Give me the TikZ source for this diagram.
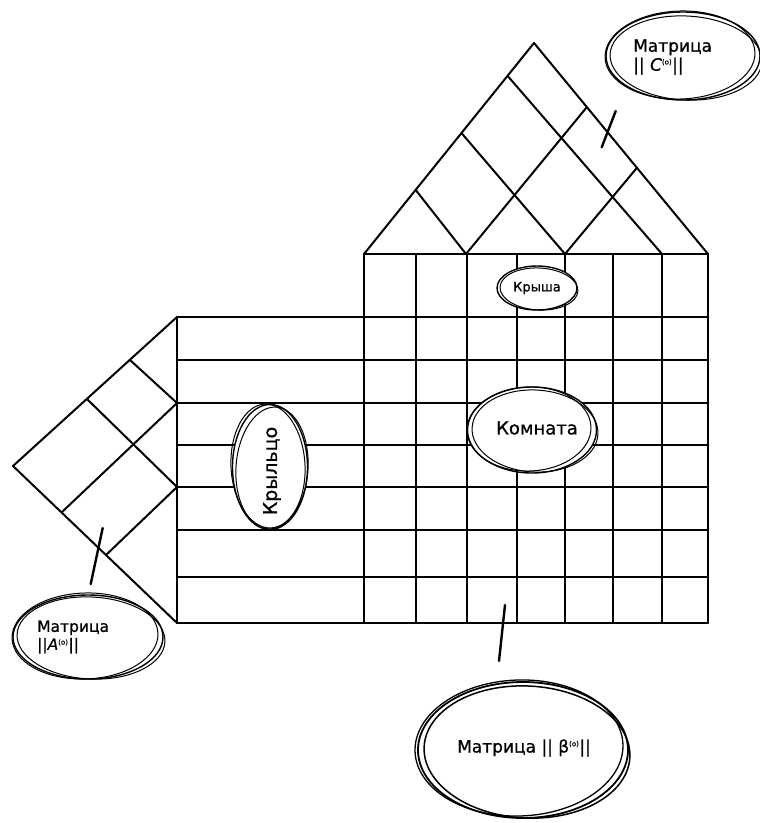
\documentclass[tikz,border=0pt]{standalone}
\usepackage{fontspec}
\setmainfont{DejaVu Sans}[FakeBold=0.8]
\usetikzlibrary{shapes.geometric}
\newcommand\supo{\textsuperscript{\fontsize{7}{8}\selectfont(o)}}
\begin{document}
\begin{tikzpicture}[x=1pt,y=-1pt,
  gridline/.style={line width=2pt, line cap=round, line join=round},
  bubble/.style={ellipse, draw, fill=white, line width=1.4pt, inner sep=0pt},
  sketch/.style={line width=1pt},
  leader/.style={line width=2.4pt, line cap=round},
  lbl/.style={inner sep=0pt, align=left}]
\useasboundingbox[fill=white] (0,0) rectangle (760,823);

% ---- house grid ----
\foreach \y in {317,360,403,445,487,530,577,623} \draw[gridline] (177,\y) -- (708,\y);
\draw[gridline] (364,254) -- (708,254);
\foreach \x in {364,416,467,517,565,613,662,708} \draw[gridline] (\x,254) -- (\x,623);
\draw[gridline] (177,317) -- (177,623);

% ---- porch roof (left triangle) ----
\draw[gridline] (177,317) -- (13,466) -- (177,623);
\draw[gridline] (177,403) -- (130,360);
\draw[gridline] (177,487) -- (87,399);
\draw[gridline] (177,403) -- (62,512);
\draw[gridline] (177,487) -- (106,555);

% ---- roof ----
\draw[gridline] (364,254) -- (534,43) -- (708,254);
\draw[gridline] (415.7,190) -- (466,254);
\draw[gridline] (466,254) -- (586.7,107.3);
\draw[gridline] (461.7,133.3) -- (565,254);
\draw[gridline] (565,254) -- (636.5,168.3);
\draw[gridline] (508.3,76.7) -- (662,254);

% ---- leader lines ----
\coordinate (c1) at (601.7,147.3); \coordinate (c2) at (615.7,111);
\coordinate (a1) at (102.7,528);   \coordinate (a2) at (90.7,584);
\coordinate (b1) at (505,605);     \coordinate (b2) at (499,661);
\draw[leader] (c1) -- (c2);
\draw[leader] (a1) -- (a2);
\draw[leader] (b1) -- (b2);

% ---- bubbles ----
\node[bubble, minimum width=154pt, minimum height=88pt] (bC) at (683,56) {};
\draw[sketch, shift={(686,58)}, rotate=-3] (0,0) ellipse [x radius=76, y radius=42];
\draw[sketch, shift={(680,55)}, rotate=2] (0,0) ellipse [x radius=75, y radius=44];
\node[lbl, anchor=west, font=\fontsize{17}{19}\selectfont] (tC) at (633,57) {Матрица\\|| \textit{C}\supo||};

\node[bubble, minimum width=150pt, minimum height=84pt] (bA) at (88,637) {};
\draw[sketch, shift={(91,638)}, rotate=-3] (0,0) ellipse [x radius=74, y radius=41];
\draw[sketch, shift={(85,636)}, rotate=2] (0,0) ellipse [x radius=73, y radius=43];
\node[lbl, anchor=west, font=\fontsize{15.5}{18}\selectfont] (tA) at (37,637) {Матрица\\||\textit{A}\supo||};

\node[bubble, line width=1.8pt, minimum width=210pt, minimum height=136pt] (bB) at (523,750) {};
\draw[line width=1.5pt, shift={(527,752)}, rotate=-3] (0,0) ellipse [x radius=103, y radius=66];
\draw[line width=1.3pt, shift={(519,748)}, rotate=2] (0,0) ellipse [x radius=104, y radius=68];
\node[lbl, anchor=west, font=\fontsize{17}{19}\selectfont] (tB) at (457,748) {Матрица || β\supo||};

\node[bubble, minimum width=80pt, minimum height=44pt] (bR) at (537,288) {};
\draw[sketch, shift={(539,289)}, rotate=-3] (0,0) ellipse [x radius=39, y radius=21];
\node[lbl, font=\fontsize{13}{15}\selectfont] (tR) at (537,288) {Крыша};

\node[bubble, minimum width=129pt, minimum height=86pt] (bK) at (532,430) {};
\draw[sketch, shift={(535,431)}, rotate=-3] (0,0) ellipse [x radius=63, y radius=41];
\draw[sketch, shift={(529,429)}, rotate=2] (0,0) ellipse [x radius=62, y radius=42];
\node[lbl, font=\fontsize{18}{20}\selectfont] (tK) at (537,428) {Комната};

\node[bubble, minimum width=75pt, minimum height=125pt] (bP) at (270,467) {};
\draw[sketch, shift={(272,468)}, rotate=-4] (0,0) ellipse [x radius=36, y radius=61];
\draw[sketch, shift={(268,466)}, rotate=3] (0,0) ellipse [x radius=37, y radius=62];
\node[lbl, rotate=90, font=\fontsize{19}{21}\selectfont] (tP) at (272,471) {Крыльцо};
\end{tikzpicture}
\end{document}
